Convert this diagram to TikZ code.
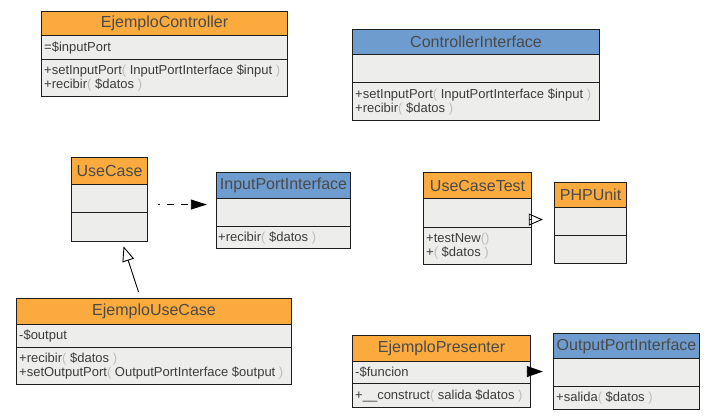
\documentclass[tikz,border=0pt]{standalone}
\usepackage{fontspec}
\setmainfont{Liberation Sans}
\usetikzlibrary{arrows.meta,fit}
\definecolor{hdrorange}{HTML}{FBAB3E}
\definecolor{hdrblue}{HTML}{6E9CCF}
\definecolor{bodygray}{HTML}{EDEDEB}
\definecolor{edgecol}{HTML}{1E1E1E}
\definecolor{txtcol}{HTML}{3C3C3C}
\definecolor{hdrtxt}{HTML}{4A4A4A}
\definecolor{parcol}{HTML}{BDBDBD}
\newcommand\pl[1]{\textcolor{parcol}{#1}}
\newcommand\umlcls[9]{%
  \pgfmathsetmacro\hha{#5-#3}\pgfmathsetmacro\hhb{#6-#5}\pgfmathsetmacro\hhc{#7-#6}%
  \node[hdr, fill=#8, minimum width=#4pt, minimum height=\hha pt, anchor=north west] (#1-h) at (#2,#3) {#9};
  \node[cmp, minimum width=#4pt, minimum height=\hhb pt, anchor=north west] (#1-a) at (#2,#5) {};
  \node[cmp, minimum width=#4pt, minimum height=\hhc pt, anchor=north west] (#1-m) at (#2,#6) {};
  \node[fit=(#1-h)(#1-m), inner sep=0pt] (#1) {};
}
\tikzset{
  hdr/.style={draw=edgecol, line width=1.1pt, inner sep=0pt, text=hdrtxt, font=\fontsize{16}{17}\selectfont},
  cmp/.style={draw=edgecol, line width=1.1pt, inner sep=0pt, fill=bodygray},
  txt/.style={anchor=west, inner sep=0pt, text=txtcol, align=left, font=\fontsize{13}{14}\selectfont},
  conn/.style={draw=black, line width=0.9pt},
}
\begin{document}
\begin{tikzpicture}[x=1pt,y=-1pt]
\useasboundingbox[fill=white] (0,0) rectangle (714,419);
% classes
\umlcls{ec}{41}{11}{246}{35}{59}{96}{hdrorange}{EjemploController}
\umlcls{ci}{352}{29}{247}{54}{82}{120}{hdrblue}{ControllerInterface}
\umlcls{uc}{71}{157}{76}{184}{212}{241}{hdrorange}{UseCase}
\umlcls{ipi}{216}{172}{134}{198}{226}{248}{hdrblue}{InputPortInterface}
\umlcls{uct}{423}{172}{108}{198}{227}{264}{hdrorange}{UseCaseTest}
\umlcls{php}{554}{182}{72}{207}{235}{263}{hdrorange}{PHPUnit}
\umlcls{euc}{16}{298}{275}{324}{347}{384}{hdrorange}{EjemploUseCase}
\umlcls{ep}{352}{335}{178}{361}{383}{407}{hdrorange}{EjemploPresenter}
\umlcls{opi}{553}{333}{146}{358}{386}{409}{hdrblue}{OutputPortInterface}
% texts
\node[txt] (ec-at) at ([xshift=3pt]ec-a.west) {=\$inputPort};
\node[txt] (ec-mt) at ([xshift=3pt]ec-m.west) {+setInputPort\pl{(} InputPortInterface \$input \pl{)}\\+recibir\pl{(} \$datos \pl{)}};
\node[txt] (ci-mt) at ([xshift=3pt]ci-m.west) {+setInputPort\pl{(} InputPortInterface \$input \pl{)}\\+recibir\pl{(} \$datos \pl{)}};
\node[txt] (ipi-mt) at ([xshift=2pt]ipi-m.west) {+recibir\pl{(} \$datos \pl{)}};
\node[txt] (uct-mt) at ([xshift=3pt]uct-m.west) {+testNew\pl{()}\\+\pl{(} \$datos \pl{)}};
\node[txt] (euc-at) at ([xshift=3pt]euc-a.west) {-\$output};
\node[txt] (euc-mt) at ([xshift=3pt]euc-m.west) {+recibir\pl{(} \$datos \pl{)}\\+setOutputPort\pl{(} OutputPortInterface \$output \pl{)}};
\node[txt] (ep-at) at ([xshift=3pt]ep-a.west) {-\$funcion};
\node[txt] (ep-mt) at ([xshift=3pt]ep-m.west) {+\_\_construct\pl{(} salida \$datos \pl{)}};
\node[txt] (opi-mt) at ([xshift=3pt]opi-m.west) {+salida\pl{(} \$datos \pl{)}};
% connectors
\draw[conn, dash pattern=on 7pt off 7pt, dash phase=5pt, -{Triangle[length=16pt,width=10pt]}, shorten <=10pt, shorten >=9pt]
  ([yshift=-5pt]uc.east) -- ([yshift=6pt]ipi.west);
\draw[conn, -{Triangle[open,length=15pt,width=12pt]}, shorten <=6.3pt, shorten >=4.2pt]
  ([xshift=-13.6pt]euc.north) -- ([xshift=12.7pt]uc.south);
\draw[conn, -{Triangle[open,length=14pt,width=12pt]}, shorten >=11pt]
  ([yshift=-1pt]uct.east) -- ([yshift=3.5pt]php.west);
\draw[conn, -{Triangle[length=16pt,width=11pt]}, shorten >=10pt]
  (ep.east) -- (opi.west);
\end{tikzpicture}
\end{document}
